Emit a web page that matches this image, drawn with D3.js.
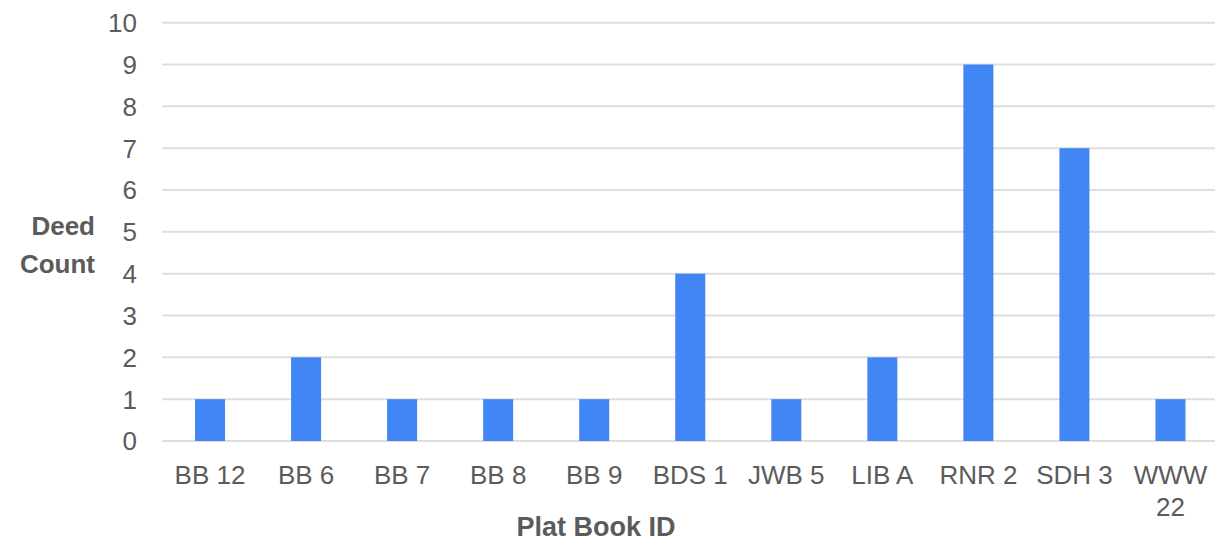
<!DOCTYPE html>
<html>
<head>
<meta charset="utf-8">
<script src="https://cdn.jsdelivr.net/npm/d3@7"></script>
<style>
  html, body { margin: 0; padding: 0; background: #fff; }
  svg { display: block; font-family: "Liberation Sans", Arial, sans-serif; }
</style>
</head>
<body>
<svg id="chart" width="1215" height="542"></svg>
<script>
// Deeds recorded per plat book
const categories = ["BB 12", "BB 6", "BB 7", "BB 8", "BB 9", "BDS 1", "JWB 5", "LIB A", "RNR 2", "SDH 3", "WWW 22"];
const deedCounts = [1, 2, 1, 1, 1, 4, 1, 2, 9, 7, 1];
const yTicks = [0, 1, 2, 3, 4, 5, 6, 7, 8, 9, 10];
const xTitle = "Plat Book ID";
const yTitleLines = ["Deed", "Count"];

const svg = d3.select("#chart");
const textColor = "#5b5b5b";
const gridColor = "#dedede";
const barColor = "#4285f4";

const x = d3.scaleBand()
  .domain(categories)
  .range([162, 1218.5])
  .paddingInner(0.6875)
  .paddingOuter(0.34375);

const y = d3.scaleLinear()
  .domain([0, 10])
  .range([441, 22.7]);

// horizontal gridlines
svg.append("g")
  .selectAll("line")
  .data(yTicks)
  .join("line")
  .attr("x1", 162)
  .attr("x2", 1215)
  .attr("y1", d => y(d))
  .attr("y2", d => y(d))
  .attr("stroke", gridColor)
  .attr("stroke-width", 2);

// y axis labels
const yAxis = d3.axisLeft(y).tickValues(yTicks).tickSize(0).tickPadding(0);
svg.append("g")
  .attr("transform", "translate(137,0)")
  .call(yAxis)
  .call(g => g.select(".domain").remove())
  .call(g => g.selectAll("text")
    .attr("fill", textColor)
    .attr("font-size", 26)
    .attr("font-family", "Liberation Sans, Arial, sans-serif")
    .attr("dy", "0.34em"));

// bars
svg.append("g")
  .selectAll("rect")
  .data(categories.map((c, i) => ({ c, v: deedCounts[i] })))
  .join("rect")
  .attr("x", d => x(d.c))
  .attr("width", x.bandwidth())
  .attr("y", d => y(d.v))
  .attr("height", d => y(0) - y(d.v))
  .attr("fill", barColor);

// x axis labels (wrapped onto two lines when too wide for the band)
const xAxis = d3.axisBottom(x).tickSize(0).tickPadding(0);
svg.append("g")
  .attr("transform", "translate(0,0)")
  .call(xAxis)
  .call(g => g.select(".domain").remove())
  .call(g => g.selectAll(".tick text")
    .attr("fill", textColor)
    .attr("font-size", 26)
    .attr("font-family", "Liberation Sans, Arial, sans-serif")
    .attr("y", 484)
    .attr("dy", 0)
    .each(function(d) {
      const t = d3.select(this);
      if (d === "WWW 22") {
        t.text(null);
        d.split(" ").forEach((w, i) => {
          t.append("tspan").attr("x", 0).attr("y", 484 + i * 32).text(w);
        });
      }
    }));

// axis titles
svg.append("text")
  .attr("x", 596)
  .attr("y", 536)
  .attr("text-anchor", "middle")
  .attr("font-size", 27)
  .attr("font-weight", "bold")
  .attr("fill", textColor)
  .text(xTitle);

svg.append("g")
  .selectAll("text")
  .data(yTitleLines)
  .join("text")
  .attr("x", 95)
  .attr("y", (d, i) => 235 + i * 37.5)
  .attr("text-anchor", "end")
  .attr("font-size", 26)
  .attr("font-weight", "bold")
  .attr("fill", textColor)
  .text(d => d);
</script>
</body>
</html>
